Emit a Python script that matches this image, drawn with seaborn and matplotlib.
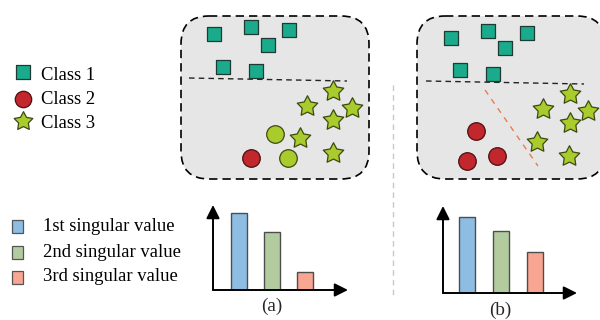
import matplotlib
matplotlib.use("Agg")
import matplotlib.pyplot as plt
from matplotlib.patches import FancyBboxPatch, Rectangle
from matplotlib.path import Path
import numpy as np
import pandas as pd
import seaborn as sns

sns.set_theme(style="white")
plt.rcParams["font.family"] = ["Liberation Serif", "DejaVu Serif"]

# ---- feature-space points (canvas pixel units) ----
# panel (a): before
a_sq_x = [214, 251, 289, 268, 223, 256]
a_sq_y = [34, 27, 30, 45, 67, 71]
a_star_x = [333, 307, 352, 333, 300, 333]
a_star_y = [91, 106, 108, 120, 138, 153]
a_circ_x = [275, 288, 251]
a_circ_y = [134, 158, 158]
a_circ_kind = ["mixed", "mixed", "class2"]

# panel (b): after
b_sq_x = [451, 488, 527, 505, 460, 493]
b_sq_y = [38, 31, 33, 48, 70, 74]
b_star_x = [570, 543, 588, 570, 537, 569]
b_star_y = [94, 109, 111, 123, 142, 156]
b_circ_x = [476, 467, 497]
b_circ_y = [131, 161, 156]
b_circ_kind = ["class2", "class2", "class2"]

# singular value spectra
sv_labels = ["1st singular value", "2nd singular value", "3rd singular value"]
sv_a = [77, 58, 18]
sv_b = [76, 62, 41]

class_labels = ["Class 1", "Class 2", "Class 3"]

TEAL = "#19ab8b"
RED = "#c1272d"
LIME = "#a9cb2c"
BAR_COLORS = ["#8dbde3", "#b2cc9f", "#f8a592"]
STAR = Path.unit_regular_star(5, 0.52)

fig = plt.figure(figsize=(6, 3.2), dpi=100)
ax = fig.add_axes([0, 0, 1, 1])

# rounded feature-space boxes
for x0 in (181, 417):
    ax.add_patch(FancyBboxPatch((x0, 16), 188, 163,
                                boxstyle="round,pad=0,rounding_size=28",
                                facecolor="#e6e6e6", edgecolor="black",
                                linewidth=1.2, linestyle=(0, (5, 3)), zorder=1))

# decision boundaries
ax.plot([189, 347], [78, 81], color="#222222", lw=1.0, ls=(0, (4, 3)), zorder=2)
ax.plot([426, 584], [81, 84], color="#222222", lw=1.0, ls=(0, (4, 3)), zorder=2)
ax.plot([485, 538], [90, 166], color="#ee7a4f", lw=1.0, ls=(0, (4, 4)), zorder=2)

# panel divider
ax.plot([393, 393], [85, 297], color="#c8c8c8", lw=1.0, ls=(0, (4, 3)), zorder=1)


def draw_points(px, py, color, marker, size, edge):
    df = pd.DataFrame({"x": px, "y": py})
    sns.scatterplot(data=df, x="x", y="y", ax=ax, color=color, marker=marker,
                    s=size, edgecolor=edge, linewidth=0.9, zorder=3, legend=False)


circ_color = {"mixed": LIME, "class2": RED}
circ_edge = {"mixed": "#3c4a12", "class2": "#4a1010"}

for sx, sy, tx, ty, cx, cy, ck in [
    (a_sq_x, a_sq_y, a_star_x, a_star_y, a_circ_x, a_circ_y, a_circ_kind),
    (b_sq_x, b_sq_y, b_star_x, b_star_y, b_circ_x, b_circ_y, b_circ_kind),
]:
    draw_points(sx, sy, TEAL, "s", 110, "#1e3a33")
    draw_points(tx, ty, LIME, STAR, 240, "#3c4a12")
    for k in ("mixed", "class2"):
        idx = [i for i, v in enumerate(ck) if v == k]
        if idx:
            draw_points([cx[i] for i in idx], [cy[i] for i in idx],
                        circ_color[k], "o", 160, circ_edge[k])

ax.set_xlabel("")
ax.set_ylabel("")
ax.set_xlim(0, 600)
ax.set_ylim(320, 0)
ax.axis("off")

# class legend
leg_marks = [("s", TEAL, "#1e3a33", 100), ("o", RED, "#4a1010", 140),
             (STAR, LIME, "#3c4a12", 200)]
for (m, c, e, s), lab, yc, yb in zip(leg_marks, class_labels, [72, 99, 121], [80, 104, 128]):
    ax.scatter([23], [yc], marker=m, s=s, color=c, edgecolor=e, linewidth=0.9, zorder=3)
    ax.text(41, yb, lab, fontsize=13.4, va="baseline", ha="left", color="black")

# singular value legend
for c, lab, yc, yb in zip(BAR_COLORS, sv_labels, [226, 252, 277], [231, 257, 281]):
    ax.add_patch(Rectangle((12, yc - 6.5), 11, 13, facecolor=c,
                           edgecolor="#555555", linewidth=0.9, zorder=3))
    ax.text(43, yb, lab, fontsize=13.4, va="baseline", ha="left", color="black")


def bar_panel(vals, left, right, top, bottom, c0, pitch, tag, tag_xy):
    W, H = 600, 320
    bax = fig.add_axes([left / W, (H - bottom) / H, (right - left) / W, (bottom - top) / H])
    df = pd.DataFrame({"sv": sv_labels, "val": vals})
    sns.barplot(data=df, x="sv", y="val", hue="sv", palette=BAR_COLORS,
                order=sv_labels, ax=bax, width=16 / pitch, edgecolor="#4d4d4d",
                linewidth=1.0, legend=False, saturation=1)
    lo = -(c0 - left) / pitch
    bax.set_xlim(lo, lo + (right - left) / pitch)
    bax.set_ylim(0, bottom - top)
    bax.set_facecolor("none")
    for sp in bax.spines.values():
        sp.set_visible(False)
    bax.set_xticks([])
    bax.set_yticks([])
    bax.set_xlabel("")
    bax.set_ylabel("")
    arrow = dict(arrowstyle="-|>,head_length=0.5,head_width=0.25", lw=1.4,
                 color="black", mutation_scale=16, shrinkA=0, shrinkB=0)
    bax.annotate("", xy=(1, 0), xytext=(0, 0), xycoords="axes fraction",
                 textcoords="axes fraction", arrowprops=arrow, annotation_clip=False)
    bax.annotate("", xy=(0, 1), xytext=(0, 0), xycoords="axes fraction",
                 textcoords="axes fraction", arrowprops=arrow, annotation_clip=False)
    ax.text(tag_xy[0], tag_xy[1], tag, fontsize=13.8, ha="center", va="center")


bar_panel(sv_a, 213, 348, 205, 290, 239, 33, "(a)", (272, 306))
bar_panel(sv_b, 443, 577, 206, 293, 467, 34, "(b)", (500, 310))

fig.savefig("out.png", dpi=100)
